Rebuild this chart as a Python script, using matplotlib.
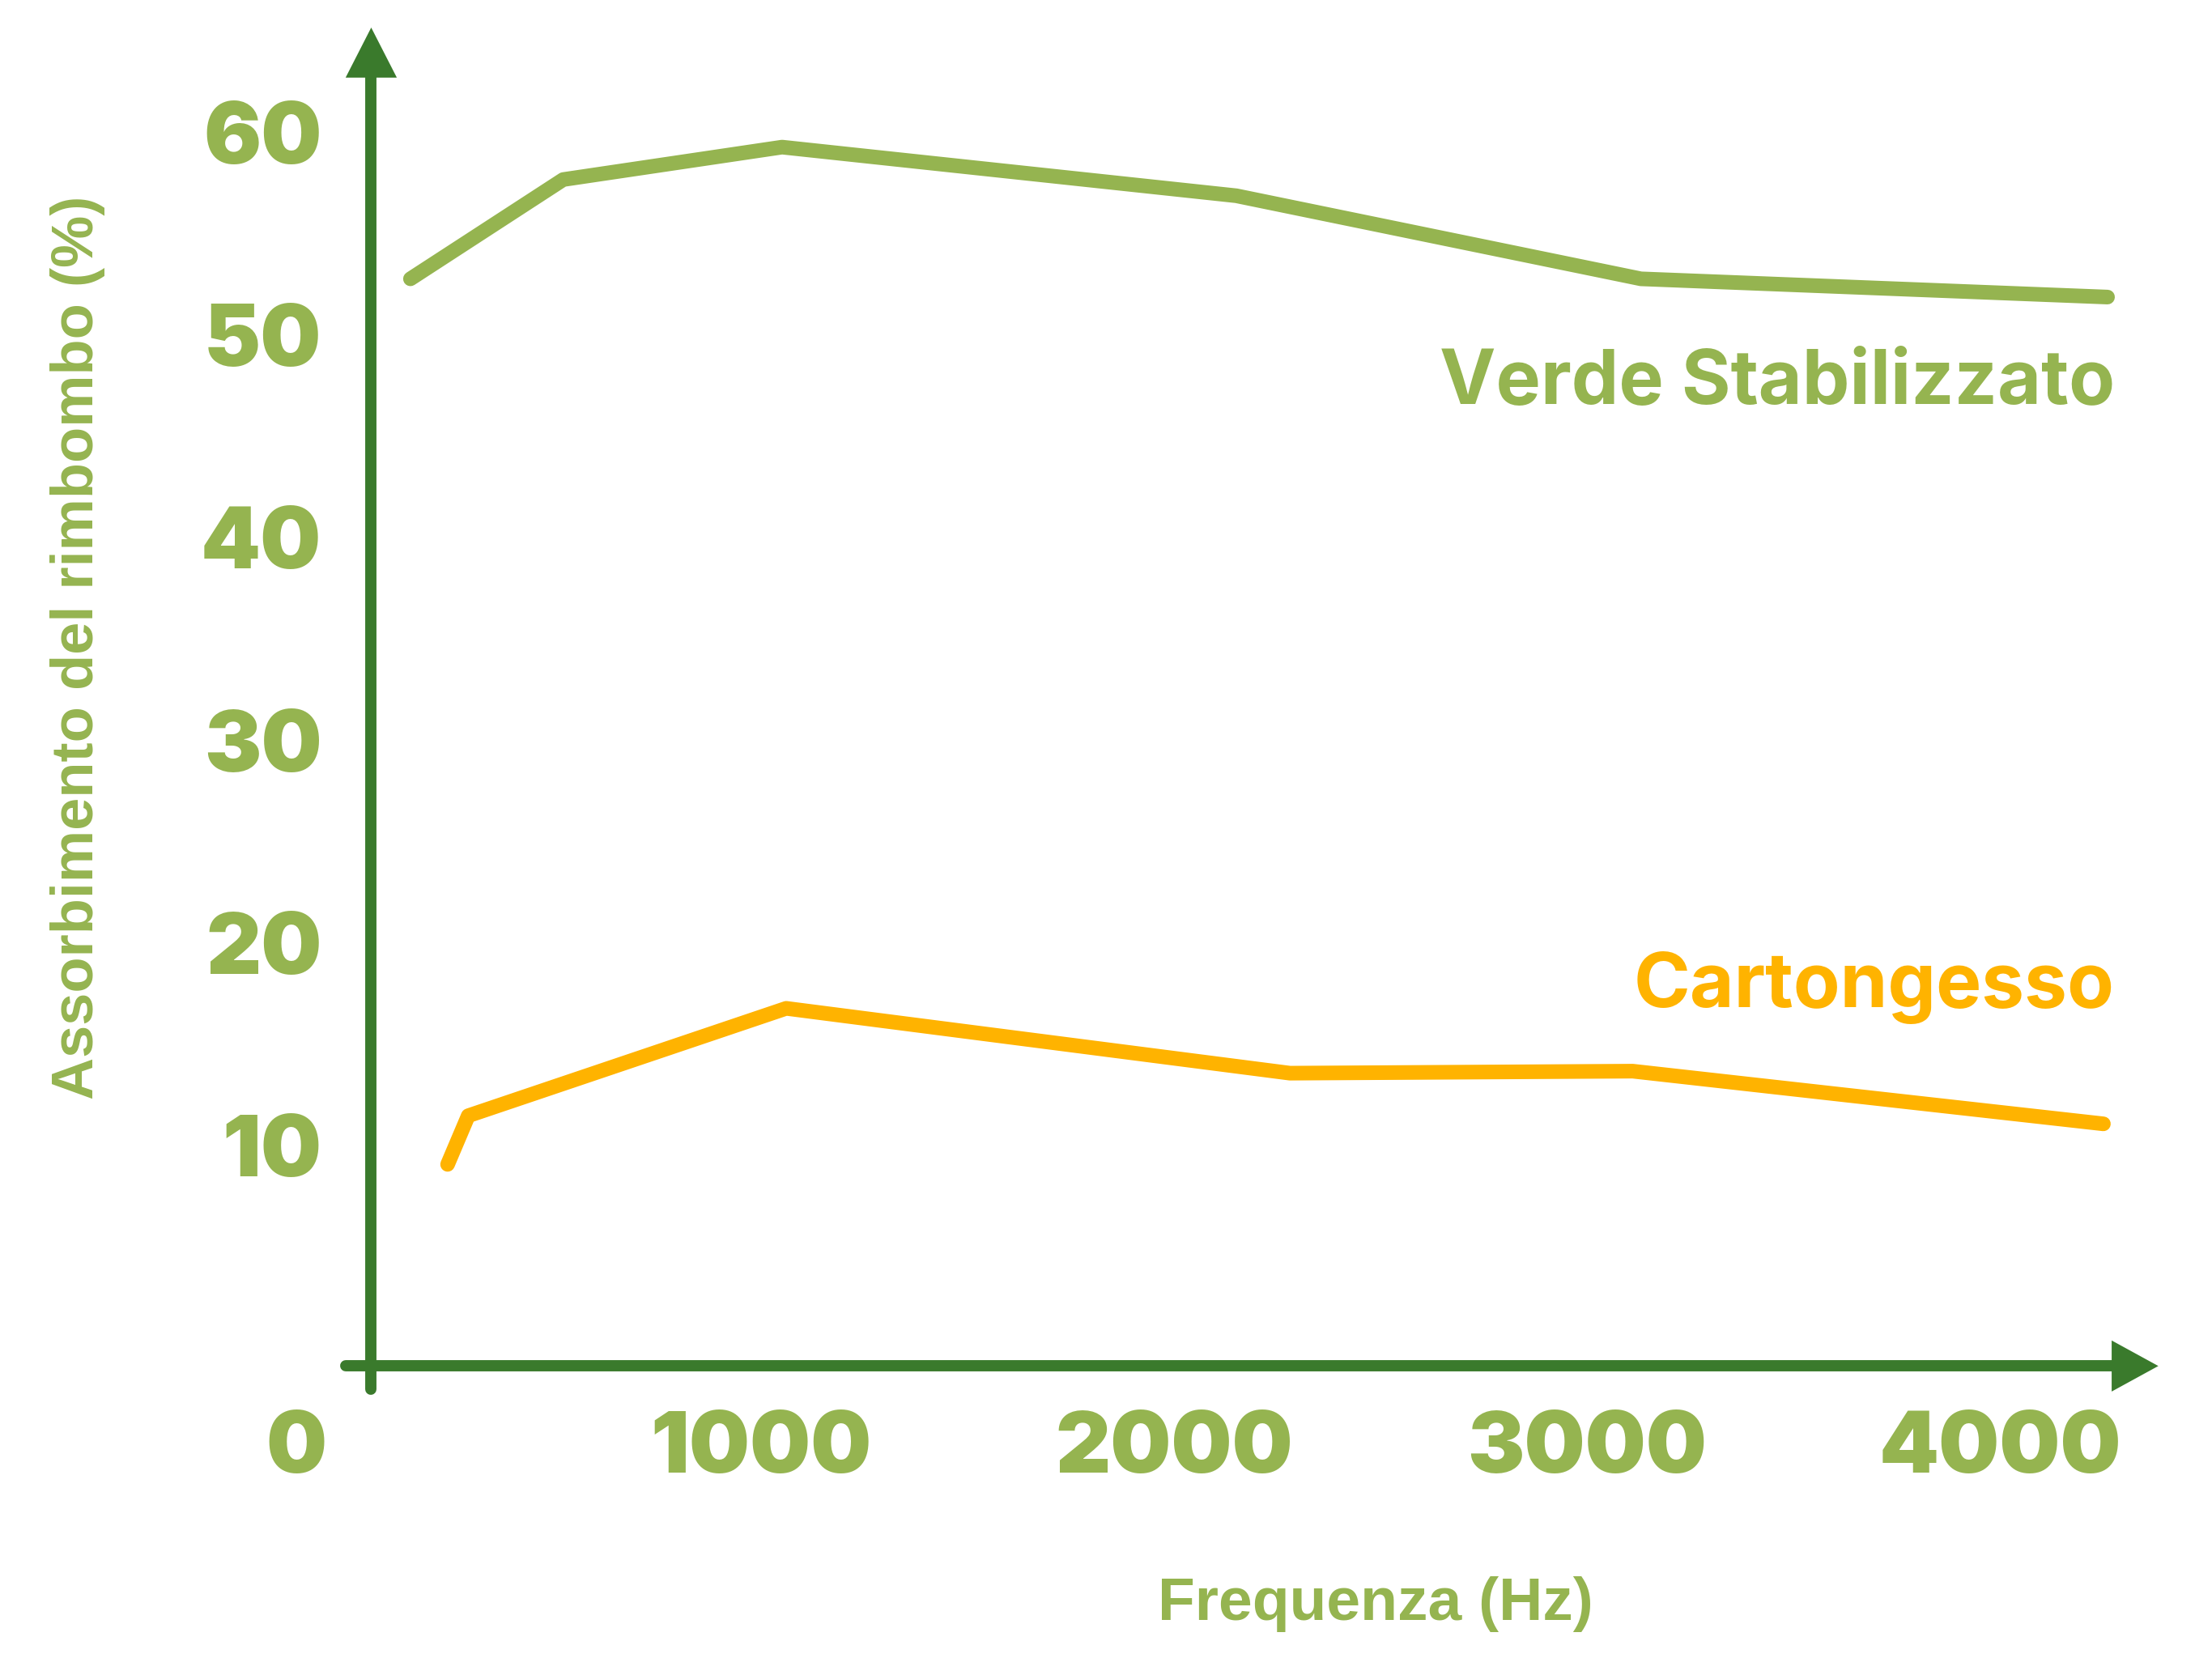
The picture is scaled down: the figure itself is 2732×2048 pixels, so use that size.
import matplotlib
matplotlib.use("Agg")
import matplotlib.pyplot as plt
from matplotlib import font_manager

# data
verde_freq = [150, 520, 1050, 2150, 3130, 4260]
verde_val = [53.2, 58.1, 59.7, 57.3, 53.2, 52.3]
carton_freq = [240, 290, 1060, 2280, 3110, 4250]
carton_val = [9.5, 11.9, 17.2, 14.0, 14.1, 11.5]
x_ticks = [1000, 2000, 3000, 4000]
y_ticks = [10, 20, 30, 40, 50, 60]

GREEN = "#95b450"
DARK = "#3a7a2c"
ORANGE = "#ffb300"

names = {f.name for f in font_manager.fontManager.ttflist}
num_font = "Inter" if "Inter" in names else "DejaVu Sans"
lab_font = "Liberation Sans Narrow" if "Liberation Sans Narrow" in names else "Liberation Sans"
ser_font = "Inter" if "Inter" in names else "DejaVu Sans"

fig = plt.figure(figsize=(27.32, 20.48), dpi=100)
ax = fig.add_axes([0, 0, 1, 1])
ax.set_xlim(-844, 4513)
ax.set_ylim(-14.86, 66.96)
ax.axis("off")

# axes with arrows
ax.plot([55, 55], [-1.6, 63.3], color=DARK, lw=10, solid_capstyle="round", zorder=2)
ax.plot([-7, 4275], [-0.45, -0.45], color=DARK, lw=10, solid_capstyle="round", zorder=2)
ax.fill([55 - 62, 55 + 62, 55], [63.13, 63.13, 65.6], color=DARK, lw=0, zorder=2)
ax.fill([4270, 4270, 4383], [-0.45 - 1.26, -0.45 + 1.26, -0.45], color=DARK, lw=0, zorder=2)

ax.plot(verde_freq, verde_val, color=GREEN, lw=13, solid_capstyle="round",
        solid_joinstyle="round", zorder=3)
ax.plot(carton_freq, carton_val, color=ORANGE, lw=13, solid_capstyle="round",
        solid_joinstyle="round", zorder=3)

for t in y_ticks:
    ax.text(-65, t, str(t), ha="right", va="center", fontsize=76,
            fontweight="black", family=num_font, color=GREEN)
for t in x_ticks:
    ax.text(t, -4.6, str(t), ha="center", va="center", fontsize=76,
            fontweight="black", family=num_font, color=GREEN)
ax.text(-126, -4.6, "0", ha="center", va="center", fontsize=76,
        fontweight="black", family=num_font, color=GREEN)

ax.text(4277, 48.0, "Verde Stabilizzato", ha="right", va="center", fontsize=67,
        fontweight="bold", family=ser_font, color=GREEN)
ax.text(4277, 18.2, "Cartongesso", ha="right", va="center", fontsize=68,
        fontweight="bold", family=ser_font, color=ORANGE)

ax.text(2487, -12.2, "Frequenza (Hz)", ha="center", va="center", fontsize=54,
        fontweight="bold", family=lab_font, color=GREEN)
ax.text(-656, 35.0, "Assorbimento del rimbombo (%)", ha="center", va="center",
        rotation=90, fontsize=52, fontweight="bold", family=lab_font, color=GREEN)

fig.savefig("out.png", dpi=100, facecolor="white")
